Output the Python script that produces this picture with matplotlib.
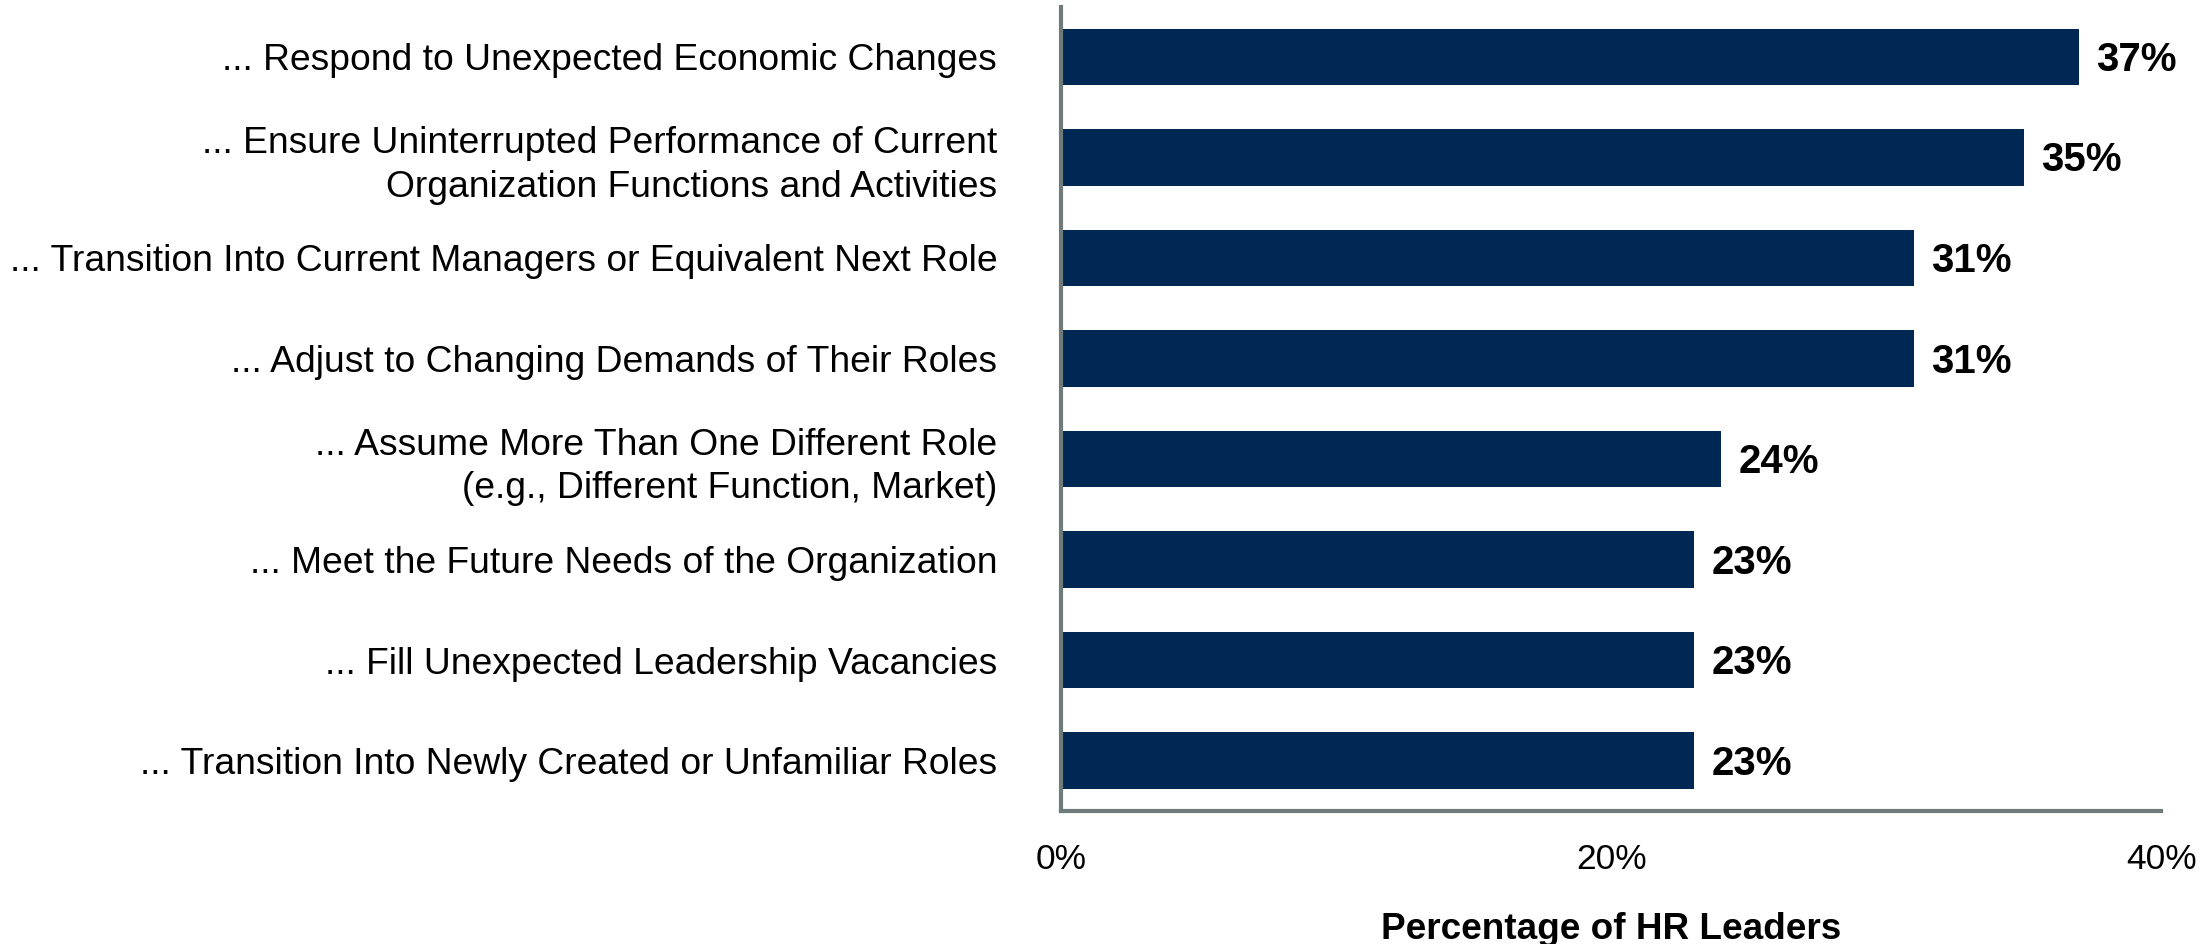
import numpy as np
import matplotlib
matplotlib.use('Agg')
import matplotlib.pyplot as plt

plt.rcParams['font.family'] = ['Liberation Sans', 'DejaVu Sans']

categories = [
    "... Respond to Unexpected Economic Changes",
    "... Ensure Uninterrupted Performance of Current\nOrganization Functions and Activities",
    "... Transition Into Current Managers or Equivalent Next Role",
    "... Adjust to Changing Demands of Their Roles",
    "... Assume More Than One Different Role\n(e.g., Different Function, Market)",
    "... Meet the Future Needs of the Organization",
    "... Fill Unexpected Leadership Vacancies",
    "... Transition Into Newly Created or Unfamiliar Roles",
]
values = [37, 35, 31, 31, 24, 23, 23, 23]
xticks = [0, 20, 40]
xticklabels = ["0%", "20%", "40%"]

bar_color = '#002855'
spine_color = '#6f7b7b'

fig = plt.figure(figsize=(22.12, 9.44), dpi=100)
ax = fig.add_axes([0.4797, 0.141, 0.4973, 0.852])

y = np.arange(len(categories))
ax.barh(y, values, height=0.56, color=bar_color)

for yi, v in zip(y, values):
    ax.text(v + 0.65, yi + 0.03, f"{v}%", va='center', ha='left',
            fontsize=29, fontweight='bold', color='black')

ax.set_yticks(y)
ax.set_yticklabels(categories, fontsize=26.8, linespacing=1.3)
ax.set_ylim(len(categories) - 0.5, -0.5)
ax.set_xlim(0, 40)
ax.set_xticks(xticks)
ax.set_xticklabels(xticklabels, fontsize=25.5)
ax.tick_params(axis='both', length=0)
ax.tick_params(axis='y', pad=46)
ax.tick_params(axis='x', pad=23)
ax.set_xlabel('Percentage of HR Leaders', fontsize=26.6, fontweight='bold', labelpad=26)

for s in ['top', 'right']:
    ax.spines[s].set_visible(False)
for s in ['left', 'bottom']:
    ax.spines[s].set_color(spine_color)
    ax.spines[s].set_linewidth(3)

fig.savefig('out.png', dpi=100)
